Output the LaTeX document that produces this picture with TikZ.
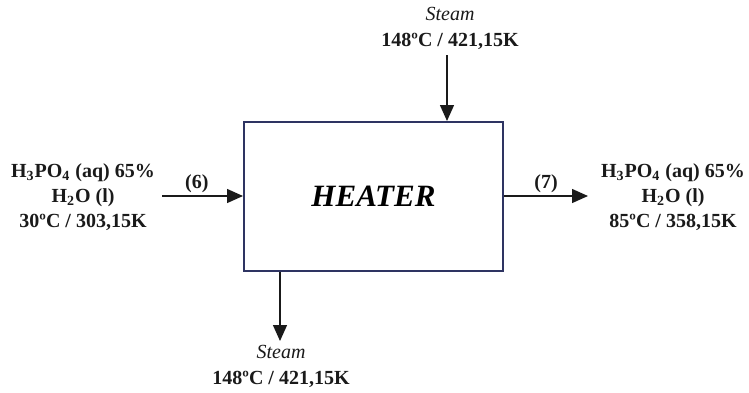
\documentclass[tikz,border=0pt]{standalone}
\usepackage{fontspec}
\setmainfont{Liberation Serif}
\usepackage{tikz}
\usetikzlibrary{arrows.meta, positioning, calc}
\definecolor{boxink}{HTML}{2E3462}
\definecolor{lineink}{HTML}{1A1A1A}
\tikzset{
  procbox/.style={draw=boxink, fill=white, line width=1pt, minimum width=129.5pt,
    minimum height=74.5pt, inner sep=0pt, font=\fontsize{15.5}{18}\selectfont\bfseries\itshape},
  streamtxt/.style={align=center, inner sep=0pt, text=lineink,
    font=\fontsize{10}{12.5}\selectfont\bfseries},
  steamtxt/.style={align=center, inner sep=0pt, text=lineink,
    font=\fontsize{10}{13}\selectfont},
  tag/.style={inner sep=0pt, text=lineink, font=\fontsize{10}{12}\selectfont\bfseries},
  flow/.style={-{Triangle[length=8pt, width=7pt]}, draw=lineink, line width=0.7pt}
}
\begin{document}
\begin{tikzpicture}[x=0.5pt, y=-0.5pt]
\useasboundingbox (0,0) rectangle (749,392);
\node[procbox] (heater) at (373.5,196.5) {HEATER};
% feed and product
\node[streamtxt] (feed) at (83,197) {H\textsubscript{3}PO\textsubscript{4} (aq) 65\%\\H\textsubscript{2}O (l)\\30ºC / 303,15K};
\node[streamtxt] (prod) at (673,197) {H\textsubscript{3}PO\textsubscript{4} (aq) 65\%\\H\textsubscript{2}O (l)\\85ºC / 358,15K};
\coordinate (feedend) at (162,196);
\coordinate (prodend) at (588,196);
\draw[flow] (feedend) -- (feedend -| heater.west) node[tag, pos=0.43, above=1.5pt] (s6) {(6)};
\draw[flow] (heater.east |- prodend) -- (prodend) node[tag, midway, above=1.5pt] (s7) {(7)};
% steam in and out
\node[steamtxt] (steamin) at (450,28) {\textit{Steam}\\\textbf{148ºC / 421,15K}};
\node[steamtxt] (steamout) at (281,366) {\textit{Steam}\\\textbf{148ºC / 421,15K}};
\coordinate (steamtop) at (447,55);
\coordinate (steambot) at (280,341);
\draw[flow] (steamtop) -- (steamtop |- heater.north);
\draw[flow] (steambot |- heater.south) -- (steambot);
\end{tikzpicture}
\end{document}
